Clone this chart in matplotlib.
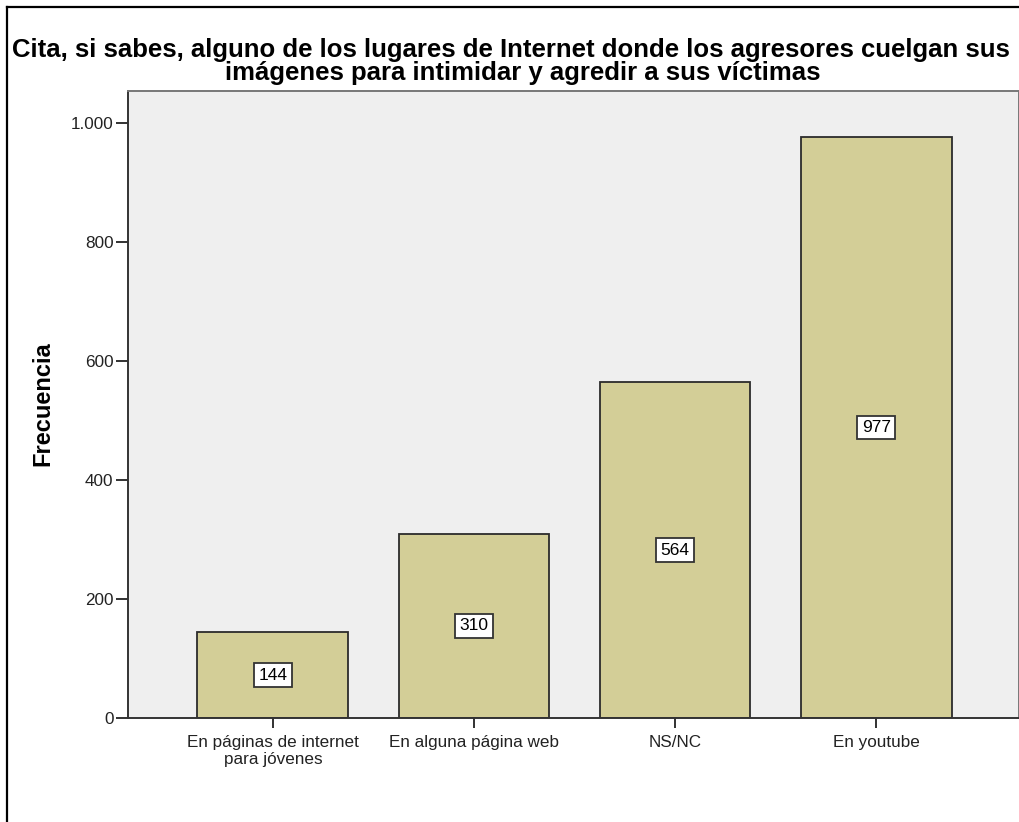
import matplotlib
matplotlib.use("Agg")
import matplotlib.pyplot as plt
from matplotlib.ticker import FuncFormatter
from matplotlib.lines import Line2D

plt.rcParams['font.family'] = ['Liberation Sans', 'DejaVu Sans']

categories = ["En páginas de internet\npara jóvenes", "En alguna página web", "NS/NC", "En youtube"]
frequencies = [144, 310, 564, 977]
y_ticks = [0, 200, 400, 600, 800, 1000]

title_lines = ["Cita, si sabes, alguno de los lugares de Internet donde los agresores cuelgan sus",
               "imágenes para intimidar y agredir a sus víctimas"]

W, H = 1020, 822
fig = plt.figure(figsize=(W / 100, H / 100), dpi=100)
fig.patch.set_facecolor("white")

# outer chart frame (left and top edges visible)
fig.add_artist(Line2D([7 / W, 7 / W], [0, 1 - 7 / H], color="black", lw=1.6, transform=fig.transFigure))
fig.add_artist(Line2D([7 / W, 1], [1 - 7 / H, 1 - 7 / H], color="black", lw=1.6, transform=fig.transFigure))

left, right, top, bottom = 128, 1019, 91, 718
ax = fig.add_axes([left / W, 1 - bottom / H, (right - left) / W, (bottom - top) / H])
ax.set_facecolor("#EFEFEF")

x = list(range(len(categories)))
ax.bar(x, frequencies, width=0.75, color="#D3CE97", edgecolor="#2b2b2b", linewidth=1.3, zorder=2)

for xi, v in zip(x, frequencies):
    ax.text(xi, v / 2, str(v), ha="center", va="center", fontsize=12.5, color="black", zorder=3,
            bbox=dict(boxstyle="square,pad=0.25", facecolor="white", edgecolor="#333333", linewidth=1.3))

ax.set_xlim(-0.72, 3.71)
ax.set_ylim(0, 1054)
ax.set_yticks(y_ticks)
ax.yaxis.set_major_formatter(FuncFormatter(lambda v, p: f"{int(v):,}".replace(",", ".")))
ax.set_xticks(x)
ax.set_xticklabels(categories, fontsize=12.3, linespacing=1.1)
ax.tick_params(axis="y", direction="out", length=9, width=1.3, labelsize=12.3, colors="#222222", pad=1.5)
ax.tick_params(axis="x", direction="out", length=7.5, width=1.3, labelsize=12.3, colors="#222222", pad=5)

for s in ("left", "bottom"):
    ax.spines[s].set_color("#333333")
    ax.spines[s].set_linewidth(1.4)
for s in ("top", "right"):
    ax.spines[s].set_color("#777777")
    ax.spines[s].set_linewidth(1.4)

fig.text(43 / W, 1 - 404 / H, "Frecuencia", rotation=90, ha="center", va="center",
         fontsize=17, fontweight="bold", color="black")

# two-line chart title
fig.text(511 / W, 1 - 57 / H, title_lines[0], ha="center", va="baseline", fontsize=18.5,
         fontweight="bold", color="black")
fig.text(523 / W, 1 - 80 / H, title_lines[1], ha="center", va="baseline", fontsize=18.5,
         fontweight="bold", color="black")

fig.savefig("out.png", dpi=100)
